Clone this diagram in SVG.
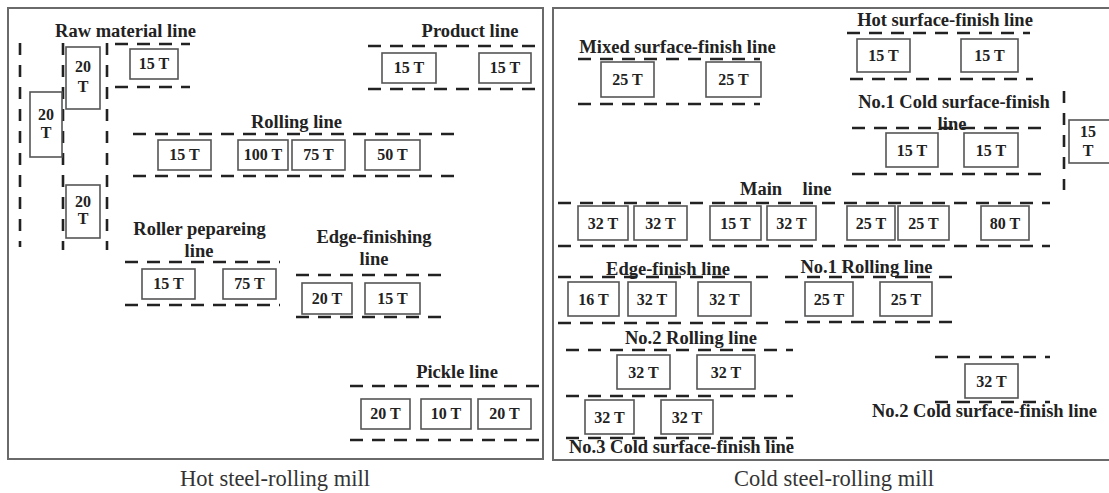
<svg xmlns="http://www.w3.org/2000/svg" width="1109" height="493" viewBox="0 0 1109 493">
<style>
.fr{fill:none;stroke:#6a6a6a;stroke-width:2}
.bx{fill:#fff;stroke:#555;stroke-width:1.6}
.d{stroke:#222;stroke-width:2.6;stroke-dasharray:13 9;fill:none}
.v{stroke:#222;stroke-width:2.6;stroke-dasharray:12 10;fill:none}
.t{font-family:"Liberation Serif","Times New Roman",serif;font-weight:bold;font-size:16px;fill:#222;text-anchor:middle}
.l{font-family:"Liberation Serif","Times New Roman",serif;font-weight:bold;font-size:18.5px;fill:#222;text-anchor:middle}
.c{font-family:"Liberation Serif","Times New Roman",serif;font-size:22.5px;fill:#333;text-anchor:middle}
</style>
<rect class="fr" x="8" y="8" width="535" height="451"/>
<rect class="fr" x="553" y="8" width="562" height="452"/>
<text class="c" x="275" y="486">Hot steel-rolling mill</text>
<text class="c" x="834" y="486">Cold steel-rolling mill</text>
<g id="connectors">
<line class="v" x1="20" y1="43" x2="20" y2="247"/>
<line class="v" x1="63" y1="43" x2="63" y2="250"/>
<line class="v" x1="107" y1="43" x2="107" y2="250"/>
<line class="d" x1="115" y1="44" x2="190" y2="44"/>
<line class="d" x1="115" y1="87" x2="190" y2="87"/>
<line class="d" x1="368" y1="46" x2="544" y2="46"/>
<line class="d" x1="368" y1="89" x2="544" y2="89"/>
<line class="d" x1="133" y1="134" x2="460" y2="134"/>
<line class="d" x1="133" y1="176" x2="460" y2="176"/>
<line class="d" x1="125" y1="262" x2="280" y2="262"/>
<line class="d" x1="125" y1="305" x2="280" y2="305"/>
<line class="d" x1="296" y1="275" x2="450" y2="275"/>
<line class="d" x1="296" y1="317" x2="450" y2="317"/>
<line class="d" x1="350" y1="386" x2="544" y2="386"/>
<line class="d" x1="350" y1="440" x2="544" y2="440"/>
<line class="d" x1="578" y1="59" x2="760" y2="59"/>
<line class="d" x1="578" y1="104" x2="760" y2="104"/>
<line class="d" x1="847" y1="33" x2="1030" y2="33"/>
<line class="d" x1="850" y1="79" x2="1033" y2="79"/>
<line class="d" x1="852" y1="128" x2="1050" y2="128"/>
<line class="d" x1="852" y1="174" x2="1050" y2="174"/>
<line class="v" x1="1064" y1="91" x2="1064" y2="190"/>
<line class="d" x1="558" y1="203" x2="1050" y2="203"/>
<line class="d" x1="558" y1="246" x2="1050" y2="246"/>
<line class="d" x1="558" y1="277" x2="768" y2="277"/>
<line class="d" x1="558" y1="323" x2="768" y2="323"/>
<line class="d" x1="785" y1="277" x2="955" y2="277"/>
<line class="d" x1="785" y1="322" x2="955" y2="322"/>
<line class="d" x1="566" y1="350" x2="793" y2="350"/>
<line class="d" x1="566" y1="396" x2="793" y2="396"/>
<line class="d" x1="566" y1="438" x2="793" y2="438"/>
<line class="d" x1="935" y1="357" x2="1050" y2="357"/>
<line class="d" x1="935" y1="402" x2="1050" y2="402"/>
</g>
<g id="labels">
<text class="l" x="125.5" y="37">Raw material line</text>
<text class="l" x="470" y="37">Product line</text>
<text class="l" x="296.5" y="128">Rolling line</text>
<text class="l" x="199.5" y="235">Roller pepareing</text>
<text class="l" x="199" y="257">line</text>
<text class="l" x="374" y="243">Edge-finishing</text>
<text class="l" x="374" y="265">line</text>
<text class="l" x="457" y="378">Pickle line</text>
<text class="l" x="677.5" y="53">Mixed surface-finish line</text>
<text class="l" x="945" y="26">Hot surface-finish line</text>
<text class="l" x="954" y="108">No.1 Cold surface-finish</text>
<text class="l" x="952" y="130">line</text>
<text class="l" x="761" y="195">Main</text>
<text class="l" x="817" y="195">line</text>
<text class="l" x="668" y="275">Edge-finish line</text>
<text class="l" x="866.5" y="273">No.1 Rolling line</text>
<text class="l" x="691" y="344">No.2 Rolling line</text>
<text class="l" x="681.5" y="453">No.3 Cold surface-finish line</text>
<text class="l" x="984.5" y="417">No.2 Cold surface-finish line</text>
</g>
<g id="raw-20a"><rect class="bx" x="66" y="47" width="34" height="62"/><text class="t" x="83" y="72">20</text><text class="t" x="83" y="92">T</text></g>
<g id="raw-20b"><rect class="bx" x="30" y="92" width="32" height="65"/><text class="t" x="46" y="120">20</text><text class="t" x="46" y="138">T</text></g>
<g id="raw-20c"><rect class="bx" x="66" y="185" width="34" height="53"/><text class="t" x="83" y="207">20</text><text class="t" x="83" y="224">T</text></g>
<g id="raw-15"><rect class="bx" x="130" y="49" width="48" height="30"/><text class="t" x="154" y="69">15 T</text></g>
<g id="prod-15a"><rect class="bx" x="382" y="53" width="54" height="30"/><text class="t" x="409" y="73">15 T</text></g>
<g id="prod-15b"><rect class="bx" x="479" y="53" width="52" height="30"/><text class="t" x="505" y="73">15 T</text></g>
<g id="roll-15"><rect class="bx" x="158" y="140" width="53" height="30"/><text class="t" x="184.5" y="160">15 T</text></g>
<g id="roll-100"><rect class="bx" x="238" y="140" width="50" height="30"/><text class="t" x="263" y="160">100 T</text></g>
<g id="roll-75"><rect class="bx" x="292" y="140" width="53" height="30"/><text class="t" x="318.5" y="160">75 T</text></g>
<g id="roll-50"><rect class="bx" x="365" y="140" width="55" height="30"/><text class="t" x="392.5" y="160">50 T</text></g>
<g id="rp-15"><rect class="bx" x="142" y="269" width="53" height="30"/><text class="t" x="168.5" y="289">15 T</text></g>
<g id="rp-75"><rect class="bx" x="223" y="269" width="53" height="30"/><text class="t" x="249.5" y="289">75 T</text></g>
<g id="ef-20"><rect class="bx" x="302" y="283" width="50" height="31"/><text class="t" x="327" y="304">20 T</text></g>
<g id="ef-15"><rect class="bx" x="365" y="283" width="55" height="31"/><text class="t" x="392.5" y="304">15 T</text></g>
<g id="pk-20a"><rect class="bx" x="361" y="399" width="49" height="30"/><text class="t" x="385.5" y="419">20 T</text></g>
<g id="pk-10"><rect class="bx" x="421" y="399" width="50" height="30"/><text class="t" x="446" y="419">10 T</text></g>
<g id="pk-20b"><rect class="bx" x="478" y="399" width="53" height="30"/><text class="t" x="504.5" y="419">20 T</text></g>
<g id="mx-25a"><rect class="bx" x="601" y="62" width="53" height="35"/><text class="t" x="627.5" y="85">25 T</text></g>
<g id="mx-25b"><rect class="bx" x="706" y="62" width="55" height="35"/><text class="t" x="733.5" y="85">25 T</text></g>
<g id="hs-15a"><rect class="bx" x="857" y="39" width="53" height="33"/><text class="t" x="883.5" y="61">15 T</text></g>
<g id="hs-15b"><rect class="bx" x="961" y="39" width="57" height="33"/><text class="t" x="989.5" y="61">15 T</text></g>
<g id="c1-15a"><rect class="bx" x="886" y="133" width="52" height="34"/><text class="t" x="912" y="156">15 T</text></g>
<g id="c1-15b"><rect class="bx" x="964" y="133" width="54" height="34"/><text class="t" x="991" y="156">15 T</text></g>
<g id="c1-15c"><rect class="bx" x="1069" y="120" width="45" height="43"/><text class="t" x="1088" y="137">15</text><text class="t" x="1088" y="156">T</text></g>
<g id="m-32a"><rect class="bx" x="578" y="206" width="50" height="34"/><text class="t" x="603" y="229">32 T</text></g>
<g id="m-32b"><rect class="bx" x="634" y="206" width="53" height="34"/><text class="t" x="660.5" y="229">32 T</text></g>
<g id="m-15"><rect class="bx" x="710" y="206" width="51" height="34"/><text class="t" x="735.5" y="229">15 T</text></g>
<g id="m-32c"><rect class="bx" x="767" y="206" width="49" height="34"/><text class="t" x="791.5" y="229">32 T</text></g>
<g id="m-25a"><rect class="bx" x="847" y="206" width="48" height="34"/><text class="t" x="871" y="229">25 T</text></g>
<g id="m-25b"><rect class="bx" x="898" y="206" width="51" height="34"/><text class="t" x="923.5" y="229">25 T</text></g>
<g id="m-80"><rect class="bx" x="981" y="206" width="48" height="34"/><text class="t" x="1005" y="229">80 T</text></g>
<g id="e-16"><rect class="bx" x="568" y="282" width="51" height="34"/><text class="t" x="593.5" y="305">16 T</text></g>
<g id="e-32a"><rect class="bx" x="628" y="282" width="48" height="34"/><text class="t" x="652" y="305">32 T</text></g>
<g id="e-32b"><rect class="bx" x="698" y="282" width="53" height="34"/><text class="t" x="724.5" y="305">32 T</text></g>
<g id="r1-25a"><rect class="bx" x="805" y="282" width="48" height="34"/><text class="t" x="829" y="305">25 T</text></g>
<g id="r1-25b"><rect class="bx" x="880" y="282" width="52" height="34"/><text class="t" x="906" y="305">25 T</text></g>
<g id="r2-32a"><rect class="bx" x="617" y="355" width="53" height="34"/><text class="t" x="643.5" y="378">32 T</text></g>
<g id="r2-32b"><rect class="bx" x="697" y="355" width="58" height="34"/><text class="t" x="726" y="378">32 T</text></g>
<g id="c3-32a"><rect class="bx" x="585" y="400" width="49" height="34"/><text class="t" x="609.5" y="423">32 T</text></g>
<g id="c3-32b"><rect class="bx" x="661" y="400" width="52" height="34"/><text class="t" x="687" y="423">32 T</text></g>
<g id="c2-32"><rect class="bx" x="965" y="364" width="53" height="34"/><text class="t" x="991.5" y="387">32 T</text></g>
</svg>
